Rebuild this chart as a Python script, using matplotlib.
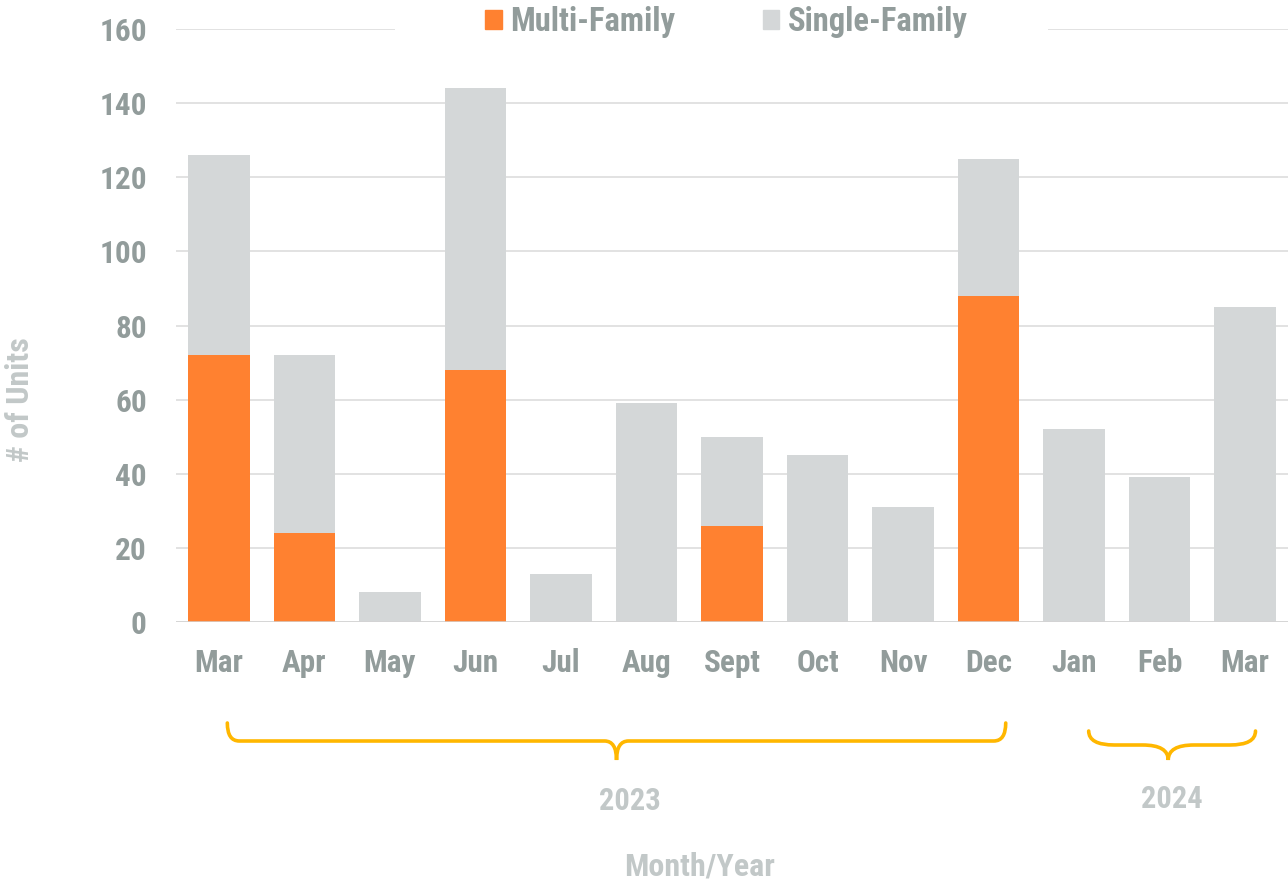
import matplotlib
matplotlib.use("Agg")
import matplotlib.pyplot as plt
import matplotlib.transforms as mtransforms
from matplotlib.path import Path
from matplotlib.patches import PathPatch, Rectangle, Patch

plt.rcParams['font.family'] = ['Roboto Condensed', 'Roboto', 'DejaVu Sans']
plt.rcParams['font.weight'] = 'bold'

months = ["Mar", "Apr", "May", "Jun", "Jul", "Aug", "Sept", "Oct", "Nov", "Dec", "Jan", "Feb", "Mar"]
multi_family = [72, 24, 0, 68, 0, 0, 26, 0, 0, 88, 0, 0, 0]
single_family = [54, 48, 8, 76, 13, 59, 24, 45, 31, 37, 52, 39, 85]
y_ticks = [0, 20, 40, 60, 80, 100, 120, 140, 160]

ORANGE = "#FF8130"
LIGHT = "#D4D7D8"
TICK_COL = "#929C9B"
TITLE_COL = "#C2C8C8"
GOLD = "#FFB700"

W, H = 1288, 881
fig = plt.figure(figsize=(W / 100, H / 100), dpi=100)
ax = fig.add_axes([176 / W, 1 - 622 / H, 1112 / W, 593 / H])

x = list(range(len(months)))
ax.bar(x, multi_family, width=0.72, color=ORANGE, zorder=3)
ax.bar(x, single_family, width=0.72, bottom=multi_family, color=LIGHT, zorder=3)

ax.set_xlim(-0.5, len(months) - 0.5)
ax.set_ylim(0, 160)
ax.set_yticks(y_ticks)
ax.set_xticks(x)
ax.set_xticklabels(months)
ax.grid(axis="y", color="#DADADA", linewidth=1.1, zorder=0)
ax.axhline(0, color="#D3D3D3", linewidth=1.8, zorder=4)
for s in ax.spines.values():
    s.set_visible(False)
ax.tick_params(axis="y", length=0, pad=21, labelsize=22.5, labelcolor=TICK_COL)
ax.tick_params(axis="x", length=0, pad=19, labelsize=22.5, labelcolor=TICK_COL)

# white block behind legend over top gridline
ax.add_patch(Rectangle((0.197, 0.975), 0.587, 0.06, transform=ax.transAxes,
                       facecolor="white", edgecolor="none", zorder=5, clip_on=False))
handles = [Patch(color=ORANGE, label="Multi-Family"), Patch(color=LIGHT, label="Single-Family")]
leg = ax.legend(handles=handles, loc="center", bbox_to_anchor=(0.495, 1.012), ncol=2,
                frameon=False, fontsize=23.5, handlelength=0.5, handleheight=0.5,
                handletextpad=0.25, columnspacing=2.7)
leg.set_zorder(6)
for t in leg.get_texts():
    t.set_color(TICK_COL)


def brace(x0, x1, xm, y_top, y_line, y_tip, r):
    tr = mtransforms.blended_transform_factory(ax.transData, fig.transFigure)
    fy = lambda p: 1 - p / H
    verts = [(x0, fy(y_top)), (x0, fy(y_line)), (x0 + r, fy(y_line)),
             (xm - r, fy(y_line)), (xm, fy(y_line)), (xm, fy(y_tip)),
             (xm, fy(y_line)), (xm + r, fy(y_line)),
             (x1 - r, fy(y_line)), (x1, fy(y_line)), (x1, fy(y_top))]
    codes = [Path.MOVETO, Path.CURVE3, Path.CURVE3,
             Path.LINETO, Path.CURVE3, Path.CURVE3,
             Path.CURVE3, Path.CURVE3,
             Path.LINETO, Path.CURVE3, Path.CURVE3]
    fig.add_artist(PathPatch(Path(verts, codes), transform=tr, fill=False,
                             edgecolor=GOLD, linewidth=2.6, capstyle="round"))


brace(0.1, 9.2, 4.65, 723, 741, 760, 0.14)
brace(10.17, 12.12, 11.1, 731, 745, 760, 0.3)

fig.text(630 / W, 1 - 801 / H, "2023", ha="center", va="center", fontsize=22, color=TITLE_COL)
fig.text(1172 / W, 1 - 799 / H, "2024", ha="center", va="center", fontsize=22, color=TITLE_COL)
fig.text(700 / W, 1 - 866 / H, "Month/Year", ha="center", va="center", fontsize=23, color=TITLE_COL)
fig.text(20 / W, 1 - 400 / H, "# of Units", ha="center", va="center", rotation=90,
         fontsize=23, color=TITLE_COL)

fig.savefig("out.png", dpi=100, facecolor="white")
